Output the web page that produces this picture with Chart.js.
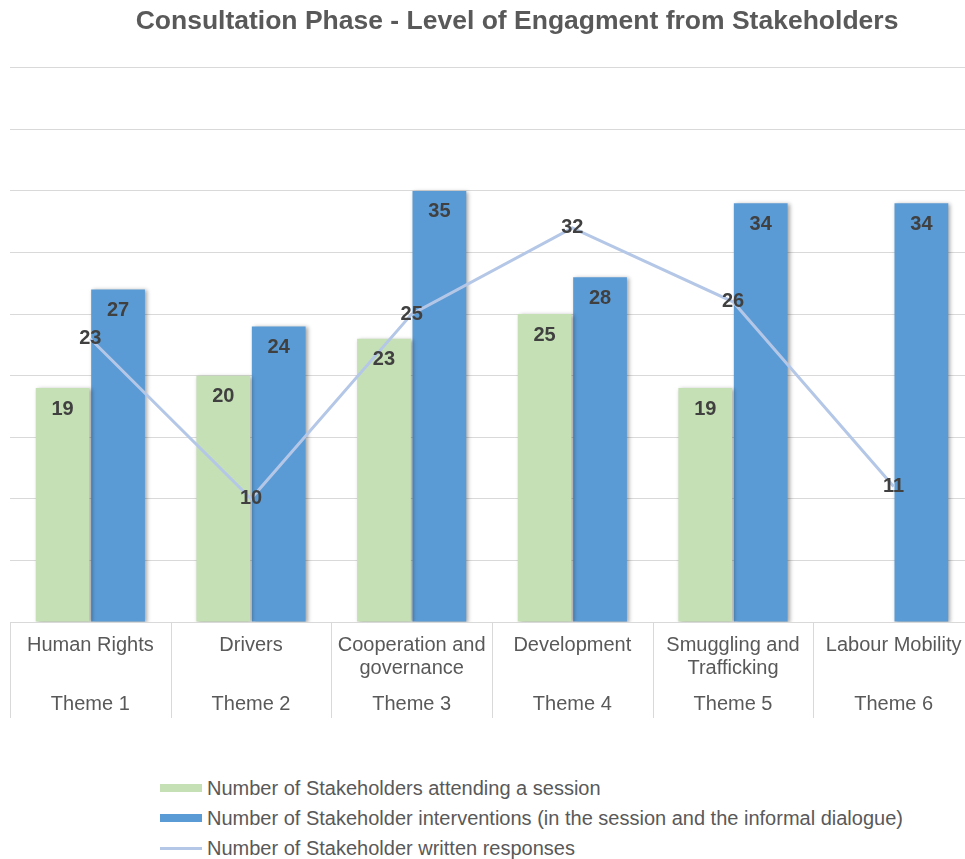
<!DOCTYPE html>
<html>
<head>
<meta charset="utf-8">
<title>Consultation Phase - Level of Engagment from Stakeholders</title>
<script src="https://cdn.jsdelivr.net/npm/chart.js@4/dist/chart.umd.min.js"></script>
<style>
  body { margin: 0; background: #fff; overflow: hidden; font-family: "Liberation Sans", Arial, sans-serif; }
  #wrap { position: relative; width: 974px; height: 725px; }
  #legend { position: absolute; left: 160px; top: 773px; color: #595959; font-size: 20px; }
  #legend .item { display: flex; align-items: center; height: 30px; }
  #legend .swatch { width: 42px; margin-right: 5px; }
</style>
</head>
<body>
<div id="wrap"><canvas id="engagementChart"></canvas></div>
<div id="legend"></div>
<script>
const categoryNames = ['Human Rights', 'Drivers', ['Cooperation and', 'governance'], 'Development', ['Smuggling and', 'Trafficking'], 'Labour Mobility'];
const themeLabels = ['Theme 1', 'Theme 2', 'Theme 3', 'Theme 4', 'Theme 5', 'Theme 6'];

const attending = [19, 20, 23, 25, 19, null];
const interventions = [27, 24, 35, 28, 34, 34];
const writtenResponses = [23, 10, 25, 32, 26, 11];

const seriesNames = [
  'Number of Stakeholders attending a session',
  'Number of Stakeholder interventions (in the session and the informal dialogue)',
  'Number of Stakeholder written responses'
];

const TEXT = '#595959';
const GRID = '#d9d9d9';
const FONT = '"Liberation Sans", Arial, sans-serif';

// soft shadow behind the bars, like the office chart style
const barShadow = {
  id: 'barShadow',
  beforeDatasetDraw(chart, args) {
    if (args.meta.type !== 'bar') return;
    const ctx = chart.ctx;
    ctx.save();
    ctx.shadowColor = 'rgba(0,0,0,0.35)';
    ctx.shadowBlur = 4;
    ctx.shadowOffsetX = 2;
    ctx.shadowOffsetY = 1;
  },
  afterDatasetDraw(chart, args) {
    if (args.meta.type !== 'bar') return;
    chart.ctx.restore();
  }
};

// value labels: inside the top of the bars, centred on the line points
const valueLabels = {
  id: 'valueLabels',
  afterDatasetsDraw(chart) {
    const ctx = chart.ctx;
    ctx.save();
    ctx.font = 'bold 20px ' + FONT;
    ctx.fillStyle = '#404040';
    ctx.textAlign = 'center';
    ctx.textBaseline = 'middle';
    chart.data.datasets.forEach((ds, i) => {
      const meta = chart.getDatasetMeta(i);
      meta.data.forEach((el, j) => {
        const v = ds.data[j];
        if (v === null || v === undefined) return;
        const y = meta.type === 'bar' ? el.y + 21 : el.y;
        ctx.fillText(String(v), el.x, y);
      });
    });
    ctx.restore();
  }
};

// vertical separators between the categories, below the plot
const themeDividers = {
  id: 'themeDividers',
  afterDraw(chart) {
    const x = chart.scales.x;
    const top = chart.chartArea.bottom;
    const bottom = chart.scales.x2.bottom;
    const ctx = chart.ctx;
    ctx.save();
    ctx.strokeStyle = GRID;
    ctx.lineWidth = 1;
    for (let i = 0; i <= categoryNames.length; i++) {
      const px = Math.round(x.getPixelForValue(i - 0.5)) + 0.5;
      ctx.beginPath();
      ctx.moveTo(px, top);
      ctx.lineTo(px, bottom);
      ctx.stroke();
    }
    ctx.restore();
  }
};

// the original chart was wider than the crop, so its title sits right of centre
const titleShift = {
  id: 'titleShift',
  afterLayout(chart) {
    if (chart.titleBlock) chart.titleBlock.left += 50;
  }
};

const ctx = document.getElementById('engagementChart').getContext('2d');
const chart = new Chart(ctx, {
  type: 'bar',
  data: {
    labels: categoryNames,
    datasets: [
      {
        label: seriesNames[0],
        data: attending,
        backgroundColor: '#c5e0b4',
        order: 1,
        categoryPercentage: 0.69,
        barPercentage: 0.97
      },
      {
        label: seriesNames[1],
        data: interventions,
        backgroundColor: '#5b9bd5',
        order: 1,
        categoryPercentage: 0.69,
        barPercentage: 0.97
      },
      {
        type: 'line',
        label: seriesNames[2],
        data: writtenResponses,
        borderColor: '#b4c7e7',
        backgroundColor: '#b4c7e7',
        borderWidth: 3,
        pointRadius: 0,
        tension: 0,
        order: 0
      }
    ]
  },
  options: {
    responsive: true,
    maintainAspectRatio: false,
    animation: false,
    layout: { padding: { left: 10, right: 0, top: 0, bottom: 7 } },
    scales: {
      x: {
        offset: true,
        grid: { display: false, drawTicks: false },
        border: { display: true, color: GRID },
        ticks: {
          color: TEXT,
          padding: 12,
          maxRotation: 0,
          autoSkip: false,
          font: { family: FONT, size: 20, lineHeight: 1.15 }
        },
        afterFit(scale) { scale.height = 58; }
      },
      x2: {
        type: 'category',
        labels: themeLabels,
        position: 'bottom',
        offset: true,
        grid: { display: false, drawTicks: false },
        border: { display: false },
        ticks: {
          color: TEXT,
          padding: 13,
          maxRotation: 0,
          autoSkip: false,
          font: { family: FONT, size: 20, lineHeight: 1.15 }
        },
        afterFit(scale) { scale.height = 38; }
      },
      y: {
        min: 0,
        max: 45,
        ticks: { display: false, stepSize: 5 },
        grid: { color: GRID, lineWidth: 1, drawTicks: false },
        border: { display: false }
      }
    },
    plugins: {
      legend: { display: false },
      tooltip: { enabled: false },
      title: {
        display: true,
        text: 'Consultation Phase - Level of Engagment from Stakeholders',
        color: TEXT,
        font: { family: FONT, size: 26.5, weight: 'bold', lineHeight: 1.2 },
        padding: { top: 6, bottom: 30 }
      }
    }
  },
  plugins: [barShadow, valueLabels, themeDividers, titleShift]
});

// legend as plain html, left aligned in one column like the reference
const legendEl = document.getElementById('legend');
chart.data.datasets.forEach(ds => {
  const row = document.createElement('div');
  row.className = 'item';
  const sw = document.createElement('span');
  sw.className = 'swatch';
  sw.style.height = ds.type === 'line' ? '3px' : '8px';
  sw.style.background = ds.type === 'line' ? ds.borderColor : ds.backgroundColor;
  const txt = document.createElement('span');
  txt.textContent = ds.label;
  row.appendChild(sw);
  row.appendChild(txt);
  legendEl.appendChild(row);
});
</script>
</body>
</html>
